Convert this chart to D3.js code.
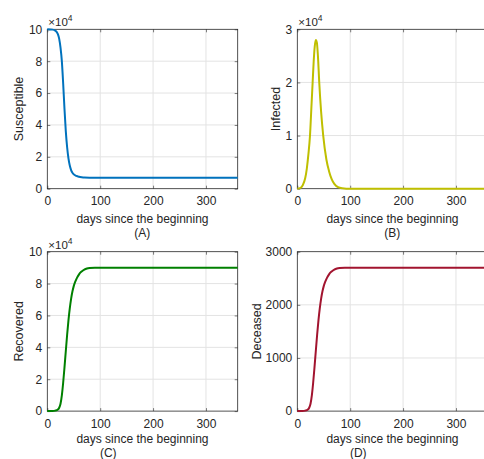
<!DOCTYPE html>
<meta charset="utf-8">
<style>
body { margin: 0; background: #fff; }
svg text { font-family: "Liberation Sans", Arial, Helvetica, sans-serif; fill: #262626; }
.domain { display: none; }
.tick line { stroke: #262626; stroke-width: 0.6; }
</style>
<body>
<svg class="chart js-chart"></svg>
<script src="https://d3js.org/d3.v7.min.js"></script>
<script type="text/javascript">
"use strict";

// values: day, then value in the units on each y axis
var sDays = [0, 10, 15, 20, 22.5, 25, 27.5, 30, 32.5, 35, 37.5, 40, 42.5, 45, 47.5, 50, 55, 60, 65, 70, 80, 360];
var susceptible = [10, 9.98, 9.92, 9.7, 9.4, 8.85, 8.0, 6.6, 5.0, 3.6, 2.6, 1.9, 1.45, 1.17, 1.0, 0.9, 0.8, 0.75, 0.72, 0.7, 0.69, 0.69];

var iDays = [0, 5, 10, 15, 18, 21, 24, 27, 29, 31, 33, 35, 37, 39, 41.5, 45, 49, 55, 60, 65, 70, 77, 85, 100, 360];
var infected = [0, 0.01, 0.06, 0.2, 0.38, 0.65, 1.0, 1.6, 2.0, 2.4, 2.68, 2.8, 2.75, 2.5, 2.0, 1.45, 1.0, 0.55, 0.33, 0.18, 0.09, 0.03, 0.01, 0, 0];

var rDays = [0, 10, 15, 20, 22.5, 25, 27.5, 30, 32.5, 35, 37.5, 40, 42.5, 45, 47.5, 50, 52.5, 55, 57.5, 60, 65, 70, 75, 80, 90, 100, 360];
var recovered = [0, 0.005, 0.03, 0.1, 0.21, 0.46, 0.99, 1.78, 2.74, 3.77, 4.79, 5.69, 6.44, 7.04, 7.5, 7.84, 8.09, 8.28, 8.44, 8.58, 8.76, 8.88, 8.95, 8.98, 9.0, 9.0, 9.0];

var dDays = [0, 10, 15, 20, 22.5, 25, 27.5, 30, 32.5, 35, 37.5, 40, 42.5, 45, 47.5, 50, 52.5, 55, 57.5, 60, 65, 70, 75, 80, 90, 100, 360];
var deceased = [0, 1.5, 9, 30, 63, 138, 297, 534, 822, 1131, 1437, 1707, 1932, 2112, 2250, 2352, 2427, 2484, 2532, 2574, 2628, 2664, 2685, 2694, 2700, 2700, 2700];

var xTicks = [0, 100, 200, 300];
var yTicksTen = [0, 2, 4, 6, 8, 10];
var yTicksThree = [0, 1, 2, 3];
var yTicksDeceased = [0, 1000, 2000, 3000];

var width = 484, height = 459;
var svg = d3.select('.js-chart').attr('width', width).attr('height', height);

var panels = [
  {days: sDays, values: susceptible, ymax: 10, ticks: yTicksTen, label: 'Susceptible', tag: '(A)', color: '#0072BD',
   left: 47.3, top: 29.3, exp: true, ylabelOff: 29, tagX: 95, xlabOff: 34.5, tagOff: 48.5},
  {days: iDays, values: infected, ymax: 3, ticks: yTicksThree, label: 'Infected', tag: '(B)', color: '#BFBF00',
   left: 297.3, top: 29.3, exp: true, ylabelOff: 22, tagX: 95, xlabOff: 34.5, tagOff: 48.5},
  {days: rDays, values: recovered, ymax: 10, ticks: yTicksTen, label: 'Recovered', tag: '(C)', color: '#008000',
   left: 47.3, top: 251.7, exp: true, ylabelOff: 29, tagX: 61, xlabOff: 32.3, tagOff: 46.3},
  {days: dDays, values: deceased, ymax: 3000, ticks: yTicksDeceased, label: 'Deceased', tag: '(D)', color: '#A2142F',
   left: 297.3, top: 251.7, exp: false, ylabelOff: 40.5, tagX: 61, xlabOff: 32.3, tagOff: 46.3}
];

var pw = 190.4, ph = 159.4;
var fmt = function (d) { return String(d); };

panels.forEach(function (p) {
  var x = d3.scaleLinear().domain([0, 360]).range([0, pw]);
  var y = d3.scaleLinear().domain([0, p.ymax]).range([ph, 0]);
  var g = svg.append('g').attr('transform', 'translate(' + p.left + ',' + p.top + ')');

  // grid
  g.selectAll('.gx').data(xTicks.slice(1)).enter().append('line')
    .attr('x1', x).attr('x2', x).attr('y1', 0).attr('y2', ph)
    .style('stroke', '#e3e3e3').style('stroke-width', 1);
  g.selectAll('.gy').data(p.ticks.slice(1, -1)).enter().append('line')
    .attr('y1', y).attr('y2', y).attr('x1', 0).attr('x2', pw)
    .style('stroke', '#e3e3e3').style('stroke-width', 1);

  // box
  g.append('rect').attr('width', pw).attr('height', ph)
    .style('fill', 'none').style('stroke', '#262626').style('stroke-width', 0.8);

  g.append('g').attr('transform', 'translate(0,' + ph + ')')
    .call(d3.axisBottom(x).tickValues(xTicks).tickFormat(fmt).tickSize(-3).tickPadding(8))
    .selectAll('text').style('font-size', '12px');
  g.append('g')
    .call(d3.axisTop(x).tickValues(xTicks).tickSize(-3).tickFormat(''));
  g.append('g')
    .call(d3.axisLeft(y).tickValues(p.ticks).tickFormat(fmt).tickSize(-3).tickPadding(5))
    .selectAll('text').style('font-size', '12px');
  g.append('g').attr('transform', 'translate(' + pw + ',0)')
    .call(d3.axisRight(y).tickValues(p.ticks).tickSize(-3).tickFormat(''));

  var line = d3.line()
    .x(function (d, i) { return x(p.days[i]); })
    .y(function (d) { return y(d); })
    .curve(d3.curveMonotoneX);
  g.append('path').datum(p.values).attr('d', line)
    .style('fill', 'none').style('stroke', p.color).style('stroke-width', 2);

  if (p.exp) {
    var t = g.append('text').attr('x', 1).attr('y', -3).style('font-size', '11.5px');
    t.append('tspan').text('\u00d710');
    t.append('tspan').attr('dy', -5).style('font-size', '8.5px').text('4');
  }

  g.append('text').attr('transform', 'translate(' + (-p.ylabelOff) + ',' + ph / 2 + ') rotate(-90)')
    .attr('text-anchor', 'middle').attr('dy', '0.35em').style('font-size', '12.5px').text(p.label);
  g.append('text').attr('x', pw / 2).attr('y', ph + p.xlabOff)
    .attr('text-anchor', 'middle').style('font-size', '12px').text('days since the beginning');
  g.append('text').attr('x', p.tagX).attr('y', ph + p.tagOff)
    .attr('text-anchor', 'middle').style('font-size', '12px').text(p.tag);
});
</script>
</body>
